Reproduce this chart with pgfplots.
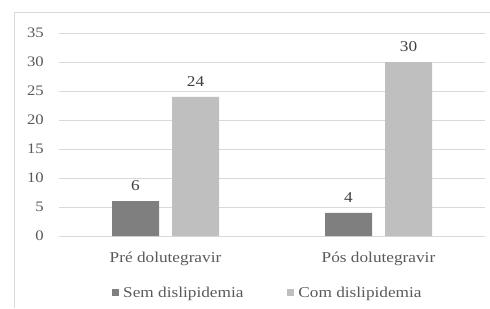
\documentclass[border=0pt]{standalone}
\usepackage{fontspec}
\setmainfont{Liberation Serif}[FakeStretch=1.15]
\usepackage{pgfplots}
\pgfplotsset{compat=1.18}
\definecolor{darkbar}{HTML}{7F7F7F}
\definecolor{lightbar}{HTML}{BFBFBF}
\definecolor{gridc}{HTML}{D9D9D9}
\definecolor{ticktxt}{HTML}{595959}
\definecolor{valtxt}{HTML}{404040}
\begin{document}
\begin{tikzpicture}
\path[use as bounding box] (0,0) rectangle (490pt,308pt);
\draw[gridc, line width=1pt] (14.5pt,0) -- (14.5pt,295pt) -- (490pt,295pt);
\begin{axis}[
  axis on top=false,
  at={(59pt,72pt)}, anchor=south west,
  scale only axis, width=426pt, height=203pt,
  ybar=13pt, bar width=47pt,
  xmin=-0.5, xmax=1.5, ymin=0, ymax=35,
  xtick={0,1}, xticklabels={Pré dolutegravir, Pós dolutegravir},
  ytick={0,5,...,35},
  axis x line*=bottom, axis y line*=left,
  x axis line style={gridc, line width=1pt},
  y axis line style={draw=none},
  ymajorgrids, grid style={gridc, line width=1pt},
  major tick length=0pt,
  /pgf/number format/assume math mode=true,
  tick label style={font=\fontsize{14.5}{18}\selectfont, text=ticktxt},
  yticklabel style={anchor=east, inner sep=0pt, xshift=-15pt},
  xticklabel style={font=\fontsize{15}{18}\selectfont, anchor=base, yshift=-26pt},
  nodes near coords,
  nodes near coords style={font=\fontsize{15}{18}\selectfont, text=valtxt, anchor=base, yshift=10.5pt},
  clip=false,
  legend columns=2,
  legend style={draw=none, fill=none, at={(axis description cs:0.1244,-0.283)}, anchor=west,
    font=\fontsize{15}{18}\selectfont, text=ticktxt, inner sep=0pt,
    nodes={inner sep=0pt},
    /tikz/every odd column/.append style={column sep=4pt},
    /tikz/every even column/.append style={column sep=44pt}},
  legend image code/.code={\fill[#1] (0pt,-3pt) rectangle (7pt,4pt);},
]
\addplot[fill=darkbar, draw=none] coordinates {(0,6) (1,4)};
\addplot[fill=lightbar, draw=none] coordinates {(0,24) (1,30)};
\legend{Sem dislipidemia, Com dislipidemia}
\end{axis}
\end{tikzpicture}
\end{document}
